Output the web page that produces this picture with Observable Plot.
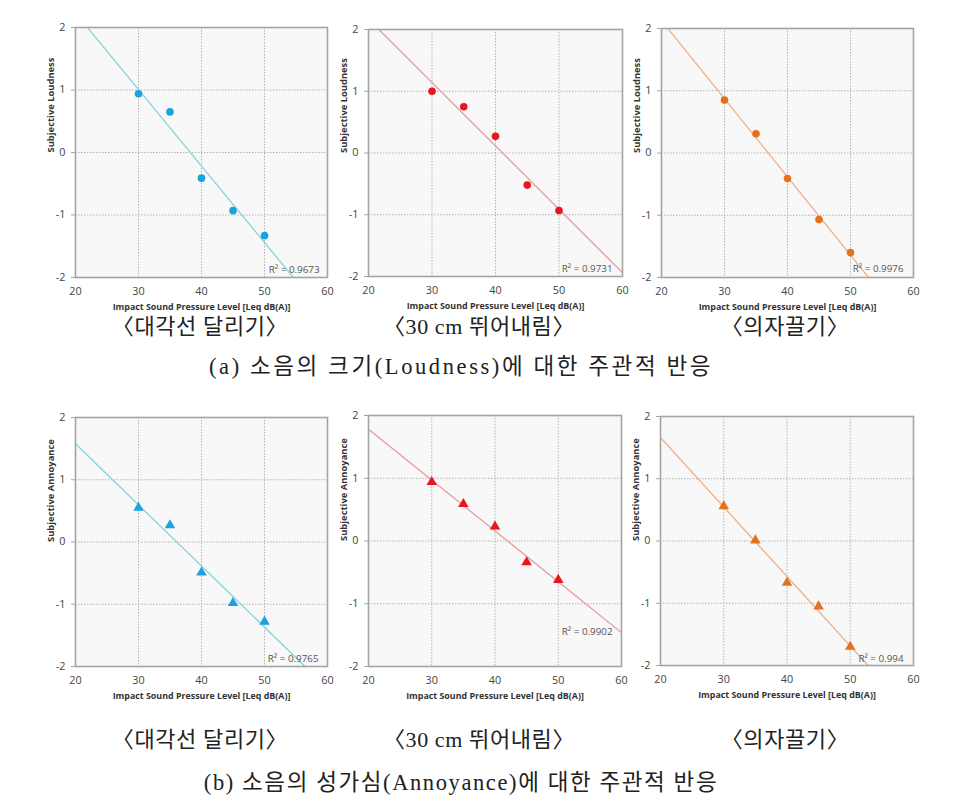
<!DOCTYPE html>
<html>
<head>
<meta charset="utf-8">
<script src="https://cdn.jsdelivr.net/npm/d3@7"></script>
<script src="https://cdn.jsdelivr.net/npm/@observablehq/plot@0.6"></script>
<style>
  html, body { margin: 0; padding: 0; background: #fff; }
  #page { position: relative; width: 963px; height: 807px; overflow: hidden; background: #fff; }
  #page svg { position: absolute; }
  .cap { position: absolute; text-align: center; white-space: nowrap; color: #222;
         font-family: "Liberation Serif", "Noto Sans CJK KR", serif; font-size: 22px; line-height: 30px; }
  .sub { letter-spacing: 0.6px; }
  .main { font-size: 22.5px; }
</style>
</head>
<body>
<div id="page"></div>
<script>
// ---------- data ----------
const levels = [30, 35, 40, 45, 50];               // Impact sound pressure level, Leq dB(A)
const loudDiag  = [0.94, 0.65, -0.41, -0.93, -1.33];
const loudJump  = [1.00, 0.75, 0.27, -0.52, -0.93];
const loudChair = [0.85, 0.31, -0.41, -1.07, -1.60];
const annDiag   = [0.55, 0.27, -0.49, -0.98, -1.28];
const annJump   = [0.94, 0.59, 0.23, -0.34, -0.62];
const annChair  = [0.56, 0.01, -0.67, -1.05, -1.70];
const r2Loud = ["0.9673", "0.9731", "0.9976"];
const r2Ann  = ["0.9765", "0.9902", "0.994"];
const sources = ["〈대각선 달리기〉", "〈30 cm 뛰어내림〉", "〈의자끌기〉"];
const captions = ["(a) 소음의 크기(Loudness)에 대한 주관적 반응", "(b) 소음의 성가심(Annoyance)에 대한 주관적 반응"];
const yLabels = ["Subjective Loudness", "Subjective Annoyance"];
const xLabel = "Impact Sound Pressure Level [Leq dB(A)]";
const xTicks = [20, 30, 40, 50, 60];
const yTicks = [-2, -1, 0, 1, 2];

// ---------- styles / layout ----------
const dotColors  = ["#1aa3de", "#e8161e", "#e5711d"];
const lineColors = ["#86d2da", "#e59aa2", "#eeb088"];
const frames = [
  [[75, 27, 327, 277], [368, 29, 622, 276], [661, 28, 913, 277]],
  [[75, 417, 327, 666], [368, 415, 621, 666], [660, 416, 913, 665]]
];
const r2Offsets = [
  [[-8, -8], [-10, -8], [-10, -9]],
  [[-9, -8], [-9, -35], [-10, -7]]
];
const captionSpacing = ["2.6px", "1.6px"];

const page = document.getElementById("page");

function panel(values, row, col) {
  const [x0, y0, x1, y1] = frames[row][col];
  const ml = 45, mt = 10, mr = 15, mb = 40;
  const data = levels.map((x, i) => ({x, y: values[i]}));
  const mx = d3.mean(levels), my = d3.mean(values);
  const slope = d3.sum(levels, (x, i) => (x - mx) * (values[i] - my)) / d3.sum(levels, x => (x - mx) ** 2);
  const icpt = my - slope * mx;
  const xDom = d3.extent(xTicks), yDom = d3.extent(yTicks);
  const fit = xDom.map(x => ({x, y: icpt + slope * x}));
  const r2 = (row === 0 ? r2Loud : r2Ann)[col];
  const [rdx, rdy] = r2Offsets[row][col];
  const font = "'Open Sans', 'Noto Sans', sans-serif";
  const svg = Plot.plot({
    width: x1 - x0 + ml + mr,
    height: y1 - y0 + mt + mb,
    marginLeft: ml, marginTop: mt, marginRight: mr, marginBottom: mb,
    x: {domain: xDom},
    y: {domain: yDom},
    style: {fontFamily: font, background: "transparent", overflow: "visible"},
    marks: [
      Plot.frame({fill: "#f8f8f8", stroke: null}),
      Plot.gridX(xTicks.slice(1, -1), {stroke: "#b4b4b4", strokeOpacity: 1, strokeDasharray: "1.5,1.5"}),
      Plot.gridY(yTicks.slice(1, -1), {stroke: "#b4b4b4", strokeOpacity: 1, strokeDasharray: "1.5,1.5"}),
      Plot.line(fit, {x: "x", y: "y", stroke: lineColors[col], strokeWidth: 1.3, clip: true}),
      Plot.frame({stroke: "#a4a4a4", strokeWidth: 1.6}),
      Plot.axisY(yTicks, {tickSize: 4, tickFormat: () => "", stroke: "#a4a4a4", label: null}),
      Plot.axisY(yTicks, {tickSize: 0, tickPadding: 10, tickFormat: d => String(d), fill: "#444", fontSize: 10.8, label: null}),
      Plot.axisX(xTicks, {tickSize: 0, tickPadding: 10, tickFormat: d => String(d), fill: "#444", fontSize: 10.8, label: null}),
      Plot.dot(data, {x: "x", y: "y", fill: dotColors[col], stroke: null,
        symbol: row === 0 ? "circle" : "triangle", r: row === 0 ? 3.8 : 3.9}),
      Plot.text([`R² = ${r2}`], {frameAnchor: "bottom-right", textAnchor: "end", lineAnchor: "middle",
        dx: rdx, dy: rdy, fill: "#555", fontSize: 9.8}),
      Plot.text([yLabels[row]], {frameAnchor: "left", rotate: -90, dx: -25, fill: "#333",
        fontWeight: "bold", fontSize: 9.4}),
      Plot.text([xLabel], {frameAnchor: "bottom", lineAnchor: "middle", dy: 30, fill: "#333",
        fontWeight: "bold", fontSize: 8.9})
    ]
  });
  svg.style.left = (x0 - ml) + "px";
  svg.style.top = (y0 - mt) + "px";
  page.appendChild(svg);
}

[[loudDiag, loudJump, loudChair], [annDiag, annJump, annChair]].forEach((row, r) =>
  row.forEach((vals, c) => panel(vals, r, c)));

function caption(text, cx, cy, cls, spacing) {
  const d = document.createElement("div");
  d.className = "cap " + cls;
  d.textContent = text;
  d.style.left = (cx - 350) + "px";
  d.style.width = "700px";
  d.style.top = (cy - 15) + "px";
  if (spacing) d.style.letterSpacing = spacing;
  page.appendChild(d);
}
const subCenters = [200, 479, 785];
const subY = [327, 740], capY = [367, 783];
[0, 1].forEach(r => {
  sources.forEach((s, c) => caption(s, subCenters[c], subY[r], "sub"));
  caption(captions[r], 461, capY[r], "main", captionSpacing[r]);
});
</script>
</body>
</html>
